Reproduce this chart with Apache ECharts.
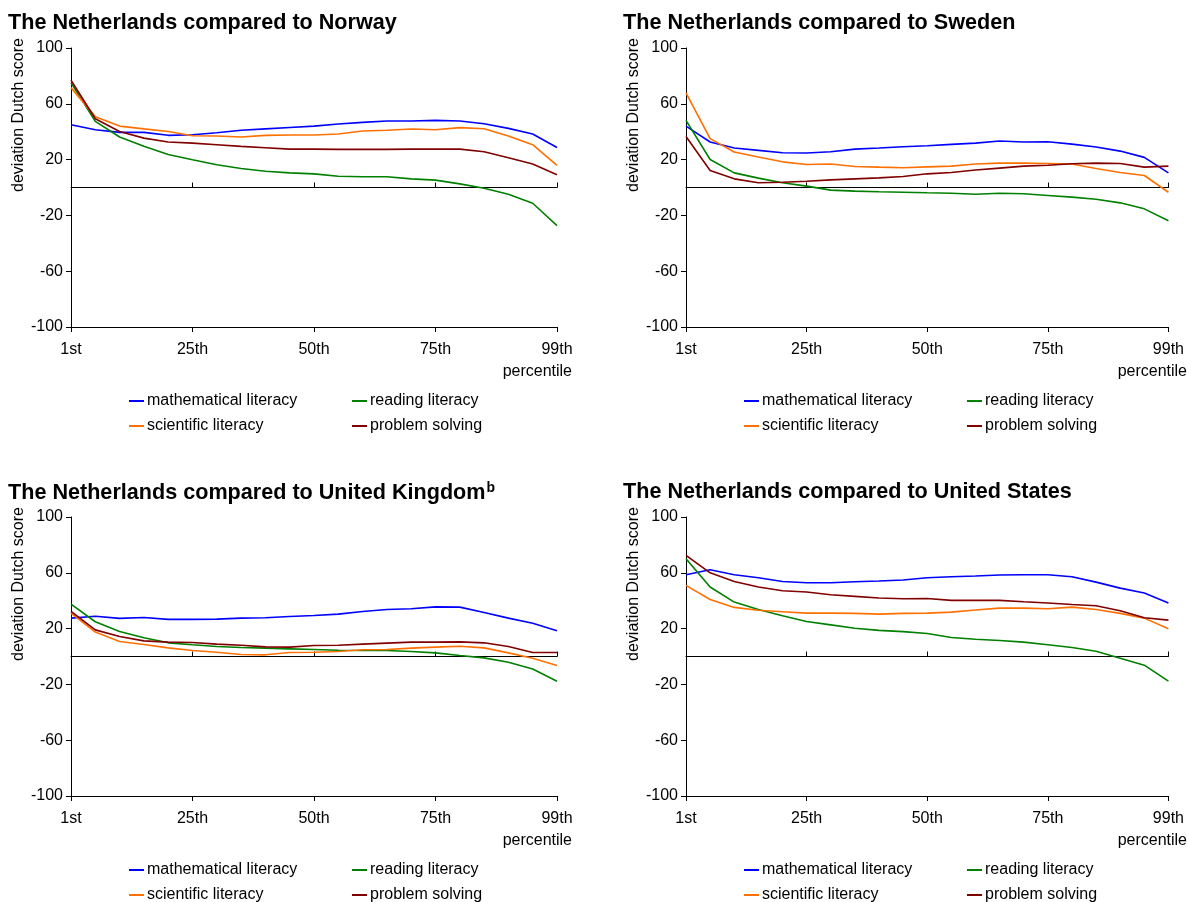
<!DOCTYPE html>
<html>
<head>
<meta charset="utf-8">
<script src="https://cdn.jsdelivr.net/npm/echarts@6/dist/echarts.min.js"></script>
<style>
  html, body { margin: 0; padding: 0; background: #fff; }
  #chart { width: 1187px; height: 902px; }
</style>
</head>
<body>
<div id="chart"></div>
<script>
// Percentile points along the score distribution
const percentiles = ['1st','5th','10th','15th','20th','25th','30th','35th','40th','45th','50th',
  '55th','60th','65th','70th','75th','80th','85th','90th','95th','99th'];

const yTicks = { min: -100, max: 100, interval: 40 };

const seriesNames = ['mathematical literacy', 'reading literacy', 'scientific literacy', 'problem solving'];
const seriesColors = ['#0000ff', '#008000', '#ff7000', '#800000'];

// Deviation of the Dutch score, per comparison country
const norwayMath     = [45, 41.4, 39.5, 39.5, 37.4, 37.8, 39.3, 41, 42, 43, 44, 45.5, 46.7, 47.7, 47.7, 48.1, 47.7, 45.7, 42.4, 38.3, 28.7];
const norwayReading  = [75, 47.4, 36.2, 29.5, 23.7, 19.9, 16.3, 13.6, 11.7, 10.5, 9.8, 8.1, 7.7, 7.7, 6.2, 5.3, 2.6, -0.5, -4.8, -11.3, -27.3];
const norwayScience  = [71.6, 50.8, 44, 42, 40.2, 37.1, 36.9, 36.2, 37.4, 37.6, 37.6, 38.3, 40.5, 41, 41.9, 41.4, 42.9, 42.1, 36.9, 30.7, 15.8];
const norwayProblem  = [76.9, 49.3, 40.2, 35.4, 32.6, 31.8, 30.7, 29.5, 28.5, 27.5, 27.5, 27.3, 27.3, 27.3, 27.5, 27.5, 27.5, 25.6, 21.3, 16.8, 9.1];

const swedenMath     = [44, 32.6, 28.3, 26.6, 24.9, 24.7, 25.6, 27.5, 28.3, 29.2, 29.9, 30.9, 31.8, 33.3, 32.6, 32.8, 31.1, 29, 26.1, 21.6, 10.5];
const swedenReading  = [48.1, 20.1, 10.5, 6.7, 3.4, 1, -1.9, -2.6, -3.1, -3.4, -3.8, -4.1, -4.8, -4.1, -4.5, -5.7, -6.9, -8.4, -11, -15.3, -23.9];
const swedenScience  = [67.8, 35, 25.4, 21.8, 18.4, 16.5, 16.8, 15.1, 14.6, 14.2, 14.8, 15.3, 16.8, 17.5, 17.5, 17.2, 16.8, 13.6, 10.8, 8.6, -3.4];
const swedenProblem  = [36.6, 12.2, 6.2, 3.4, 3.8, 4.5, 5.5, 6.2, 6.9, 7.9, 9.8, 10.8, 12.5, 13.9, 15.3, 16, 17, 17.5, 17.2, 14.6, 15.3];

const ukMath         = [27.5, 28.9, 27.3, 28, 26.6, 26.6, 26.8, 27.5, 27.8, 28.7, 29.4, 30.4, 32.3, 33.7, 34.2, 35.6, 35.4, 31.6, 27.5, 23.9, 18.4];
const ukReading      = [37.6, 24.9, 17.9, 13.4, 9.8, 8.4, 7.2, 6.5, 6, 5.5, 5, 4.5, 4.3, 4.3, 3.6, 2.6, 0.7, -1, -4.1, -8.9, -17.7];
const ukScience      = [31.1, 17.5, 10.8, 8.6, 6.2, 4.3, 3.1, 1.4, 1.2, 2.9, 3.1, 3.6, 4.8, 5, 6, 6.7, 7.4, 6.2, 2.6, -1.2, -6.5];
const ukProblem      = [32.3, 19.1, 14.4, 11.2, 10.3, 10, 8.9, 8.1, 6.9, 6.7, 7.9, 8.1, 8.9, 9.6, 10.3, 10.3, 10.5, 9.8, 7.2, 2.9, 2.9];

const usMath         = [58.6, 62.2, 58.6, 56.5, 53.8, 52.9, 52.9, 53.6, 54.1, 54.8, 56.5, 57.2, 57.7, 58.4, 58.6, 58.6, 57.2, 53.3, 49, 45.5, 38.3];
const usReading      = [70.1, 49.8, 39, 33.7, 29.2, 25.1, 22.7, 20.3, 18.7, 17.8, 16.5, 13.6, 12.4, 11.5, 10.3, 8.4, 6.5, 3.8, -1.2, -6.2, -17.7];
const usScience      = [51, 40.9, 35.2, 33.1, 32.1, 31.1, 31.1, 30.9, 30.4, 30.9, 31.1, 31.8, 33.3, 34.7, 34.7, 34.2, 35.4, 33.7, 30.9, 27.5, 19.9];
const usProblem      = [72.5, 60, 53.8, 49.8, 47.1, 46.2, 44.3, 43.1, 41.9, 41.4, 41.6, 40.2, 40.2, 40.2, 39.2, 38.3, 37.3, 36.4, 32.8, 27.8, 26.1];

const panels = [
  { title: '{t|The Netherlands compared to Norway}', values: [norwayMath, norwayReading, norwayScience, norwayProblem], dx: 0, dy: 0 },
  { title: '{t|The Netherlands compared to Sweden}', values: [swedenMath, swedenReading, swedenScience, swedenProblem], dx: 615, dy: 0 },
  { title: '{t|The Netherlands compared to United Kingdom}{s|b}', values: [ukMath, ukReading, ukScience, ukProblem], dx: 0, dy: 469 },
  { title: '{t|The Netherlands compared to United States}', values: [usMath, usReading, usScience, usProblem], dx: 615, dy: 469 }
];

// Legend slots: two columns, two rows below each plot
const legendSlots = [
  { left: 129, top: 392 },  // mathematical literacy
  { left: 352, top: 392 },  // reading literacy
  { left: 129, top: 417 },  // scientific literacy
  { left: 352, top: 417 }   // problem solving
];

const FONT = "'Liberation Sans', Arial, sans-serif";
const option = {
  animation: false,
  backgroundColor: '#fff',
  textStyle: { fontFamily: FONT, color: '#000' },
  title: [], grid: [], xAxis: [], yAxis: [], series: [], legend: [], graphic: []
};

panels.forEach((p, k) => {
  option.title.push({
    text: p.title, left: 8 + p.dx, top: 12 + p.dy, padding: 0,
    textStyle: {
      rich: {
        t: { fontFamily: FONT, fontSize: 21.6, fontWeight: 'bold', color: '#000' },
        s: { fontFamily: FONT, fontSize: 14, fontWeight: 'bold', color: '#000', verticalAlign: 'top', padding: [0, 0, 10, 1] }
      }
    }
  });
  option.grid.push({ left: 71 + p.dx, top: 48 + p.dy, width: 486, height: 279, containLabel: false });

  const axisBase = {
    type: 'category', gridIndex: k, data: percentiles, boundaryGap: false,
    axisTick: { interval: 4, length: 5, inside: false, lineStyle: { color: '#000' } },
    splitLine: { show: false }
  };
  // Labelled axis along the bottom of the plot
  option.xAxis.push(Object.assign({}, axisBase, {
    position: 'bottom', axisLine: { onZero: false, lineStyle: { color: '#000', width: 1 } },
    axisLabel: { interval: 4, margin: 15, fontSize: 16, color: '#000', fontFamily: FONT }
  }));
  // Reference line at zero deviation
  option.xAxis.push(Object.assign({}, axisBase, {
    axisLine: { onZero: true, lineStyle: { color: '#000', width: 1 } },
    axisLabel: { show: false }
  }));
  option.yAxis.push({
    type: 'value', gridIndex: k, min: yTicks.min, max: yTicks.max, interval: yTicks.interval,
    axisLine: { show: true, lineStyle: { color: '#000', width: 1 } },
    axisTick: { show: true, length: 5, lineStyle: { color: '#000' } },
    axisLabel: { margin: 8, fontSize: 16, color: '#000', fontFamily: FONT },
    splitLine: { show: false }
  });

  p.values.forEach((vals, s) => {
    option.series.push({
      type: 'line', name: seriesNames[s], xAxisIndex: 2 * k, yAxisIndex: k,
      data: vals, symbol: 'none', color: seriesColors[s],
      lineStyle: { color: seriesColors[s], width: 1.6 }
    });
    option.legend.push({
      left: legendSlots[s].left + p.dx, top: legendSlots[s].top + p.dy,
      data: [seriesNames[s]], icon: 'rect', itemWidth: 15, itemHeight: 2, padding: 0,
      textStyle: { fontSize: 16, color: '#000', fontFamily: FONT, lineHeight: 18, padding: [0, 0, 0, -2] }
    });
  });

  option.graphic.push({
    type: 'text', x: 19 + p.dx, y: 115 + p.dy, rotation: Math.PI / 2,
    style: { text: 'deviation Dutch score', font: "16px 'Liberation Sans', Arial, sans-serif", fill: '#000', textAlign: 'center', textVerticalAlign: 'middle' }
  });
  option.graphic.push({
    type: 'text', x: 572 + p.dx, y: 372 + p.dy,
    style: { text: 'percentile', font: "16px 'Liberation Sans', Arial, sans-serif", fill: '#000', textAlign: 'right', textVerticalAlign: 'middle' }
  });
});

const chart = echarts.init(document.getElementById('chart'), null, { renderer: 'canvas' });
chart.setOption(option);
</script>
</body>
</html>
